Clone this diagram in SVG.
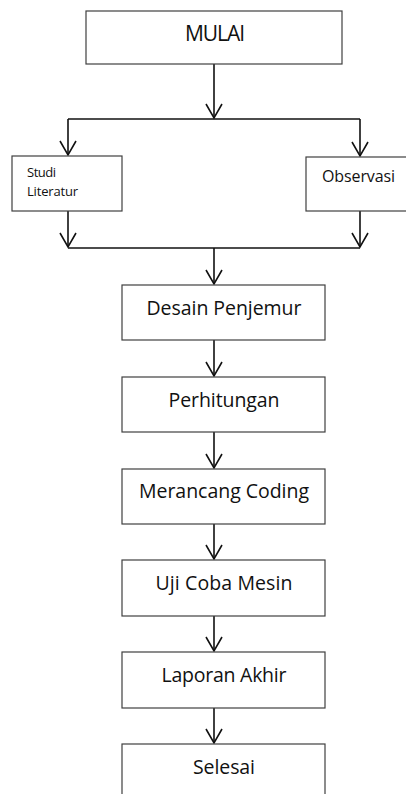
<svg xmlns="http://www.w3.org/2000/svg" width="406" height="794" viewBox="0 0 406 794">
<defs>
<style>
.box{fill:#fff;stroke:#404040;stroke-width:1.2}
.ln{fill:none;stroke:#111;stroke-width:1.6}
.t{font-family:"Open Sans","Noto Sans",sans-serif;fill:#111;text-anchor:middle}
.s{font-family:"Open Sans","Noto Sans",sans-serif;fill:#111}
</style>
<marker id="ah" viewBox="-16 -10 18 20" refX="0" refY="0" markerWidth="18" markerHeight="20" markerUnits="userSpaceOnUse" orient="auto">
<path d="M-14,-8 L0,0 L-14,8" fill="none" stroke="#111" stroke-width="1.6"/>
</marker>
</defs>
<rect width="406" height="794" fill="#fff"/>
<g id="connectors">
<line class="ln" x1="214" y1="64" x2="214" y2="118" marker-end="url(#ah)"/>
<line class="ln" x1="68" y1="119" x2="360" y2="119"/>
<line class="ln" x1="68" y1="119" x2="68" y2="155" marker-end="url(#ah)"/>
<line class="ln" x1="360" y1="119" x2="360" y2="156" marker-end="url(#ah)"/>
<line class="ln" x1="68" y1="211" x2="68" y2="247" marker-end="url(#ah)"/>
<line class="ln" x1="360" y1="211" x2="360" y2="247" marker-end="url(#ah)"/>
<line class="ln" x1="68" y1="248" x2="360" y2="248"/>
<line class="ln" x1="214" y1="248" x2="214" y2="284" marker-end="url(#ah)"/>
<line class="ln" x1="214" y1="340" x2="214" y2="376" marker-end="url(#ah)"/>
<line class="ln" x1="214" y1="432" x2="214" y2="468" marker-end="url(#ah)"/>
<line class="ln" x1="214" y1="524" x2="214" y2="559" marker-end="url(#ah)"/>
<line class="ln" x1="214" y1="616" x2="214" y2="651" marker-end="url(#ah)"/>
<line class="ln" x1="214" y1="708" x2="214" y2="743" marker-end="url(#ah)"/>
</g>
<g id="mulai"><rect class="box" x="86" y="11" width="256" height="53"/><text class="t" x="215" y="41" font-size="21" textLength="60">MULAI</text></g>
<g id="studi"><rect class="box" x="12" y="156" width="110" height="55"/><text class="s" x="27" y="177" font-size="13" textLength="29">Studi</text><text class="s" x="27" y="196" font-size="13" textLength="51">Literatur</text></g>
<g id="observasi"><rect class="box" x="306" y="157" width="110" height="54"/><text class="s" x="322" y="182" font-size="16" textLength="73">Observasi</text></g>
<g id="desain"><rect class="box" x="122" y="285" width="203" height="55"/><text class="t" x="224" y="315" font-size="19.5" textLength="155">Desain Penjemur</text></g>
<g id="perhitungan"><rect class="box" x="122" y="377" width="203" height="55"/><text class="t" x="224" y="407" font-size="19.5" textLength="111">Perhitungan</text></g>
<g id="merancang"><rect class="box" x="122" y="469" width="203" height="55"/><text class="t" x="224" y="498" font-size="19.5" textLength="170">Merancang Coding</text></g>
<g id="uji"><rect class="box" x="122" y="560" width="203" height="56"/><text class="t" x="224" y="590" font-size="19.5" textLength="137">Uji Coba Mesin</text></g>
<g id="laporan"><rect class="box" x="122" y="652" width="203" height="56"/><text class="t" x="224" y="682" font-size="19.5" textLength="125">Laporan Akhir</text></g>
<g id="selesai"><rect class="box" x="122" y="744" width="203" height="60"/><text class="t" x="224" y="774" font-size="19.5" textLength="62">Selesai</text></g>
</svg>
